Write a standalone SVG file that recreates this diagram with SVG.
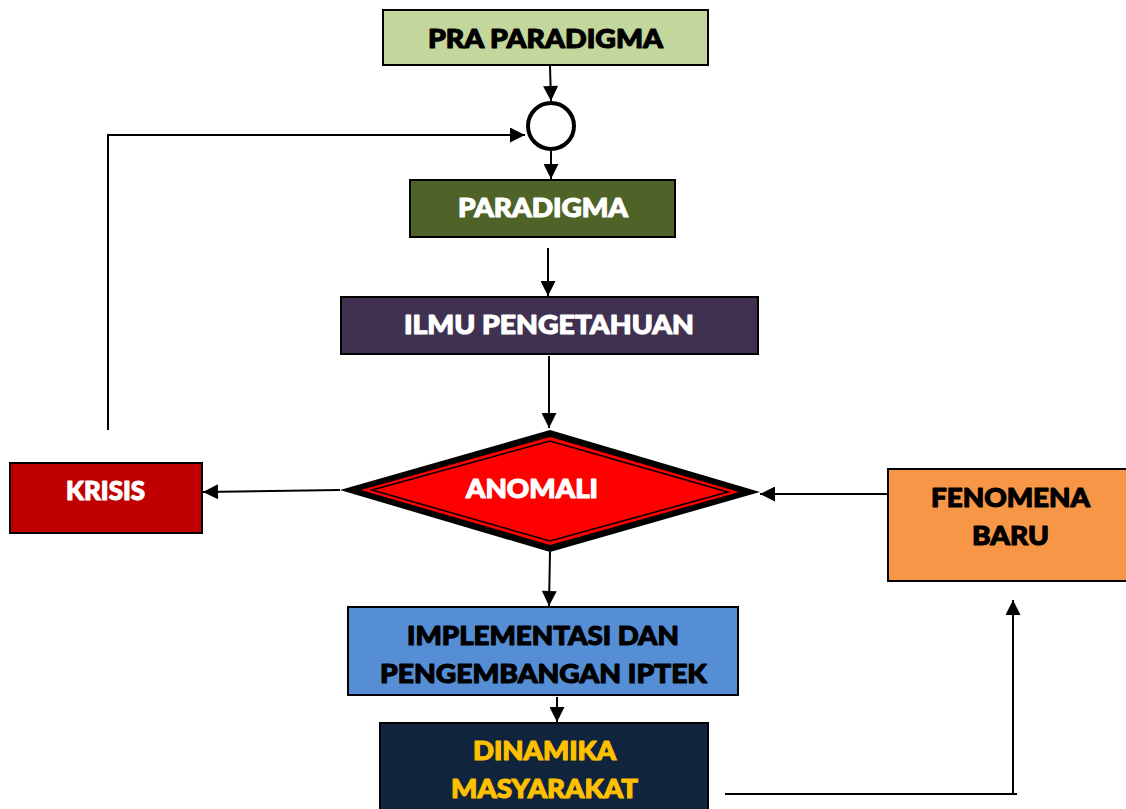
<svg xmlns="http://www.w3.org/2000/svg" width="1126" height="809" viewBox="0 0 1126 809">
<style>
.box{stroke:#000;stroke-width:2}
.t{font-family:Lato,"Noto Sans","Liberation Sans",sans-serif;font-weight:900;font-size:26px;text-anchor:middle;stroke-width:1.1;stroke-linejoin:round}
.w{fill:#fff;stroke:#fff}
.k{fill:#000;stroke:#000}
.y{fill:#FFC000;stroke:#FFC000}
.c{fill:none;stroke:#000;stroke-width:2}
</style>
<defs>
<marker id="ah" viewBox="0 0 10 10" refX="10" refY="5" markerWidth="16" markerHeight="15" markerUnits="userSpaceOnUse" orient="auto">
<path d="M0,0 L10,5 L0,10 Z" fill="#000"/>
</marker>
</defs>
<rect width="1126" height="809" fill="#fff"/>
<g id="connectors">
<line class="c" x1="550" y1="66" x2="551" y2="101" marker-end="url(#ah)"/>
<line class="c" x1="551" y1="151" x2="551" y2="179" marker-end="url(#ah)"/>
<line class="c" x1="548" y1="248" x2="548" y2="296" marker-end="url(#ah)"/>
<line class="c" x1="549" y1="356" x2="549" y2="428" marker-end="url(#ah)"/>
<line class="c" x1="340" y1="490" x2="203" y2="492" marker-end="url(#ah)"/>
<line class="c" x1="888" y1="494" x2="760" y2="494" marker-end="url(#ah)"/>
<line class="c" x1="550" y1="552" x2="549" y2="606" marker-end="url(#ah)"/>
<line class="c" x1="557" y1="697" x2="557" y2="722" marker-end="url(#ah)"/>
<polyline class="c" points="108,430 108,135 525,135" marker-end="url(#ah)"/>
<line class="c" x1="725" y1="794" x2="1017" y2="794"/>
<line class="c" x1="1013" y1="794" x2="1013" y2="600" marker-end="url(#ah)"/>
</g>
<g id="pra">
<rect class="box" x="383" y="10" width="325" height="55" fill="#C3D69B"/>
<text class="t k" x="545.5" y="48" textLength="235" lengthAdjust="spacingAndGlyphs">PRA PARADIGMA</text>
</g>
<g id="junction">
<circle cx="551" cy="126" r="23" fill="#fff" stroke="#000" stroke-width="4"/>
</g>
<g id="paradigma">
<rect class="box" x="410" y="180" width="265" height="57" fill="#4F6228"/>
<text class="t w" x="543" y="217" textLength="170" lengthAdjust="spacingAndGlyphs">PARADIGMA</text>
</g>
<g id="ilmu">
<rect class="box" x="341" y="297" width="417" height="57" fill="#403151"/>
<text class="t w" x="549" y="334" textLength="290" lengthAdjust="spacingAndGlyphs">ILMU PENGETAHUAN</text>
</g>
<g id="anomali">
<polygon points="340,490 550,430 760,492 550,552" fill="#000"/>
<polygon points="361,490 550,437 739,492 550,545" fill="#FF0000"/>
<polygon points="372,490 550,441 728,492 550,541" fill="#FF0000" stroke="#000" stroke-width="1.5"/>
<text class="t w" x="532" y="498" textLength="132" lengthAdjust="spacingAndGlyphs">ANOMALI</text>
</g>
<g id="krisis">
<rect class="box" x="10" y="463" width="192" height="70" fill="#C00000"/>
<text class="t w" x="105.5" y="500" textLength="79" lengthAdjust="spacingAndGlyphs">KRISIS</text>
</g>
<g id="fenomena">
<rect class="box" x="888" y="469" width="245" height="112" fill="#F79646"/>
<text class="t k" x="1010.5" y="507" textLength="159" lengthAdjust="spacingAndGlyphs">FENOMENA</text>
<text class="t k" x="1010.5" y="545" textLength="77" lengthAdjust="spacingAndGlyphs">BARU</text>
</g>
<g id="implementasi">
<rect class="box" x="348" y="607" width="390" height="88" fill="#558ED5"/>
<text class="t k" x="543" y="645" textLength="272" lengthAdjust="spacingAndGlyphs">IMPLEMENTASI DAN</text>
<text class="t k" x="543.5" y="683" textLength="327" lengthAdjust="spacingAndGlyphs">PENGEMBANGAN IPTEK</text>
</g>
<g id="dinamika">
<rect class="box" x="380" y="723" width="328" height="95" fill="#10243E"/>
<text class="t y" x="544.5" y="760" textLength="143" lengthAdjust="spacingAndGlyphs">DINAMIKA</text>
<text class="t y" x="544.5" y="798" textLength="187" lengthAdjust="spacingAndGlyphs">MASYARAKAT</text>
</g>
</svg>
